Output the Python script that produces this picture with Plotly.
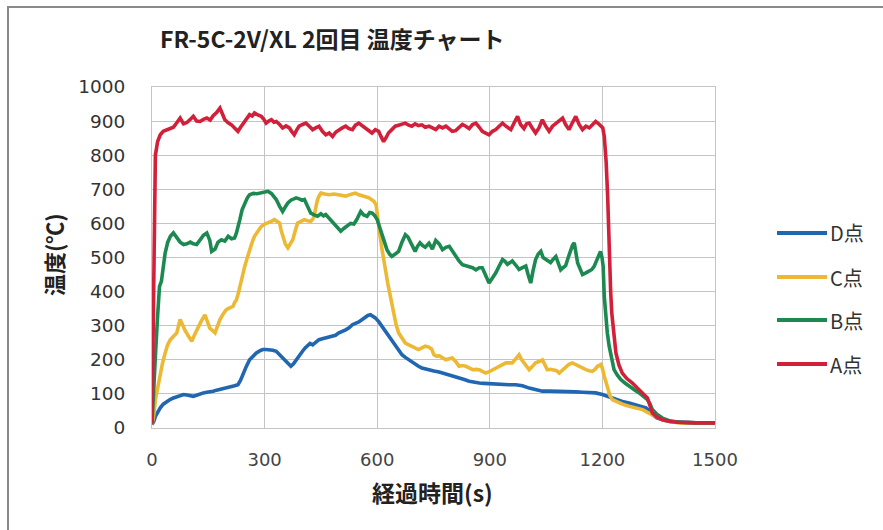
import plotly.graph_objects as go

# ---- measured temperatures (s, degC) ----
t_a = [0, 5, 9, 15, 22, 30, 40, 50, 57, 66, 75, 84, 93, 102, 110, 119, 128, 137, 146, 155, 163, 172, 181, 188, 194,
       203, 212, 220, 229, 236, 243, 252, 260, 267, 273, 282, 291, 298, 304, 311, 318, 325, 331, 340, 348, 357, 366,
       372, 379, 386, 392, 401, 410, 419, 428, 436, 445, 454, 463, 472, 481, 490, 498, 507, 516, 525, 534, 542, 551,
       560, 569, 577, 586, 595, 604, 610, 617, 624, 630, 639, 648, 657, 666, 675, 684, 692, 701, 710, 719, 728, 738,
       747, 756, 765, 774, 783, 792, 800, 809, 818, 827, 836, 845, 854, 863, 872, 880, 889, 898, 907, 916, 925, 934,
       943, 950, 956, 965, 974, 982, 991, 998, 1005, 1013, 1022, 1031, 1040, 1049, 1058, 1067, 1076, 1085, 1094,
       1102, 1111, 1120, 1129, 1138, 1147, 1156, 1165, 1174, 1182, 1190, 1196, 1201, 1205, 1210, 1214, 1218, 1222,
       1225, 1230, 1236, 1244, 1253, 1265, 1280, 1295, 1307, 1315, 1320, 1326, 1333, 1345, 1360, 1380, 1400, 1450,
       1500]
a_temp = [15, 400, 800, 840, 860, 870, 875, 878, 882, 895, 909, 892, 896, 905, 914, 900, 899, 905, 909, 903, 916,
          925, 938, 920, 904, 895, 889, 880, 870, 882, 894, 910, 919, 915, 924, 918, 914, 905, 894, 900, 904, 897,
          899, 890, 880, 886, 880, 870, 860, 875, 885, 890, 894, 885, 875, 880, 885, 870, 860, 865, 855, 868, 875,
          880, 885, 878, 875, 888, 894, 886, 880, 872, 865, 875, 870, 855, 840, 852, 865, 875, 885, 888, 892, 894,
          888, 885, 892, 887, 889, 882, 885, 880, 875, 885, 880, 885, 878, 870, 872, 880, 890, 885, 878, 890, 894,
          882, 870, 865, 860, 870, 875, 885, 894, 885, 880, 875, 895, 914, 890, 878, 892, 894, 880, 865, 880, 904,
          885, 870, 885, 894, 900, 909, 890, 875, 895, 914, 890, 875, 885, 880, 890, 899, 892, 885, 880, 855, 780,
          680, 484, 400, 337, 270, 220, 185, 161, 145, 132, 115, 103, 95, 88, 68, 44, 32, 24, 19, 17, 15, 15]

t_b = [0, 5, 9, 15, 20, 25, 30, 35, 42, 49, 57, 66, 75, 84, 93, 102, 110, 119, 128, 137, 146, 154, 159, 168, 176,
       185, 194, 203, 212, 220, 225, 230, 234, 240, 247, 254, 260, 270, 280, 287, 298, 309, 318, 325, 331, 340, 348,
       355, 362, 370, 377, 384, 392, 400, 406, 414, 423, 432, 441, 450, 457, 463, 472, 478, 485, 492, 498, 503, 511,
       520, 529, 538, 546, 556, 564, 573, 580, 587, 594, 600, 606, 613, 619, 626, 633, 639, 648, 657, 666, 675, 682,
       688, 695, 701, 707, 714, 721, 728, 738, 747, 756, 765, 774, 783, 792, 800, 809, 818, 827, 836, 845, 854, 863,
       872, 880, 889, 898, 907, 916, 925, 934, 941, 947, 954, 960, 969, 978, 987, 996, 1002, 1009, 1015, 1022, 1029,
       1036, 1042, 1049, 1056, 1062, 1069, 1076, 1082, 1089, 1095, 1102, 1109, 1116, 1120, 1125, 1130, 1134, 1140,
       1147, 1156, 1165, 1172, 1178, 1184, 1190, 1195, 1199, 1202, 1205, 1209, 1213, 1218, 1224, 1231, 1240, 1249,
       1260, 1271, 1285, 1298, 1310, 1320, 1327, 1333, 1345, 1360, 1380, 1404, 1450, 1500]
b_temp = [10, 100, 210, 330, 415, 430, 470, 513, 545, 562, 572, 560, 545, 538, 540, 545, 540, 538, 550, 565, 572,
          550, 518, 525, 545, 552, 548, 562, 555, 557, 572, 590, 611, 640, 660, 675, 684, 688, 687, 689, 692, 694,
          688, 680, 670, 650, 635, 648, 660, 668, 672, 675, 672, 668, 670, 650, 630, 625, 621, 628, 622, 626, 615,
          608, 601, 592, 585, 577, 585, 591, 600, 598, 612, 635, 625, 621, 632, 630, 622, 611, 590, 562, 540, 523,
          510, 503, 510, 518, 545, 567, 560, 548, 530, 518, 532, 543, 535, 530, 542, 525, 550, 540, 523, 530, 533,
          520, 503, 490, 479, 476, 474, 470, 464, 470, 470, 450, 425, 440, 455, 475, 494, 488, 480, 485, 490, 478,
          465, 470, 475, 450, 425, 460, 494, 510, 518, 500, 495, 490, 485, 495, 503, 485, 464, 470, 476, 500, 523,
          535, 543, 515, 484, 468, 450, 455, 460, 465, 474, 490, 510, 518, 500, 474, 386, 318, 280, 240, 205, 171,
          155, 142, 132, 122, 112, 103, 92, 83, 70, 54, 40, 29, 21, 17, 15, 15]

t_c = [0, 5, 9, 15, 22, 28, 35, 42, 49, 57, 66, 75, 82, 88, 97, 106, 114, 123, 132, 141, 147, 154, 161, 168, 175,
       181, 190, 198, 207, 216, 220, 225, 230, 234, 240, 247, 254, 260, 267, 273, 282, 291, 300, 309, 318, 326, 333,
       340, 344, 348, 355, 362, 368, 375, 382, 388, 397, 406, 414, 423, 428, 432, 437, 441, 446, 450, 460, 472, 485,
       498, 507, 516, 529, 542, 551, 560, 569, 578, 585, 591, 597, 600, 604, 608, 613, 618, 622, 628, 635, 640, 644,
       650, 657, 666, 675, 684, 692, 700, 710, 719, 728, 736, 745, 751, 759, 765, 774, 783, 792, 800, 809, 818, 827,
       836, 845, 854, 863, 872, 880, 889, 898, 907, 916, 925, 934, 943, 951, 960, 969, 978, 985, 991, 998, 1005,
       1013, 1022, 1031, 1040, 1047, 1053, 1062, 1071, 1078, 1085, 1094, 1102, 1111, 1120, 1129, 1138, 1147, 1156,
       1165, 1173, 1180, 1187, 1196, 1200, 1205, 1210, 1214, 1220, 1227, 1236, 1245, 1258, 1271, 1290, 1307, 1320,
       1333, 1345, 1360, 1380, 1404, 1450, 1500]
c_temp = [10, 40, 83, 120, 152, 190, 220, 245, 259, 268, 279, 318, 300, 286, 270, 254, 275, 298, 315, 332, 310,
          293, 286, 279, 300, 318, 335, 347, 352, 357, 368, 376, 395, 415, 445, 474, 500, 523, 545, 562, 578, 591,
          598, 601, 606, 611, 606, 601, 580, 562, 540, 528, 540, 552, 580, 601, 606, 611, 608, 606, 612, 621, 650,
          670, 682, 689, 686, 684, 686, 684, 682, 680, 685, 689, 684, 680, 678, 675, 670, 665, 655, 625, 591, 560,
          523, 495, 464, 425, 386, 360, 337, 305, 279, 262, 249, 244, 240, 235, 230, 235, 240, 238, 232, 215, 210,
          212, 206, 200, 203, 205, 195, 181, 183, 181, 176, 171, 172, 171, 166, 161, 165, 171, 176, 181, 186, 191,
          191, 191, 203, 215, 200, 191, 180, 171, 180, 191, 195, 200, 185, 171, 172, 171, 168, 161, 170, 181, 187,
          191, 186, 181, 175, 171, 168, 166, 172, 181, 186, 175, 152, 130, 112, 95, 83, 78, 73, 68, 64, 59, 54, 46,
          39, 30, 24, 19, 15, 14, 14]

t_d = [0, 5, 9, 15, 22, 30, 40, 49, 57, 66, 75, 84, 93, 101, 110, 119, 128, 137, 146, 155, 163, 172, 181, 190, 200,
       212, 220, 229, 236, 243, 251, 260, 269, 278, 287, 295, 304, 313, 322, 331, 340, 348, 356, 363, 370, 377, 384,
       392, 401, 408, 415, 421, 428, 436, 445, 454, 463, 472, 481, 489, 498, 507, 516, 525, 534, 542, 551, 560, 569,
       575, 582, 589, 595, 604, 613, 622, 631, 639, 648, 657, 666, 675, 684, 692, 701, 710, 719, 728, 738, 751, 765,
       778, 792, 805, 818, 832, 845, 858, 872, 885, 898, 916, 934, 951, 969, 987, 1005, 1022, 1040, 1058, 1076,
       1094, 1111, 1129, 1147, 1165, 1182, 1200, 1212, 1223, 1238, 1253, 1271, 1289, 1303, 1316, 1325, 1333, 1345,
       1360, 1380, 1404, 1450, 1500]
d_temp = [10, 20, 34, 47, 59, 70, 78, 84, 88, 92, 95, 98, 97, 95, 93, 96, 100, 103, 105, 106, 108, 111, 114, 117,
          120, 122, 124, 127, 140, 161, 180, 200, 210, 220, 226, 230, 230, 230, 228, 225, 215, 205, 195, 188, 181,
          188, 200, 212, 225, 235, 244, 248, 244, 250, 259, 262, 264, 266, 268, 272, 279, 283, 288, 294, 303, 307,
          311, 318, 327, 330, 332, 328, 323, 312, 298, 284, 269, 255, 240, 228, 215, 207, 200, 193, 186, 181, 176,
          173, 171, 167, 164, 160, 157, 152, 147, 142, 137, 134, 132, 131, 130, 128, 127, 127, 127, 124, 117, 112,
          108, 108, 108, 107, 106, 106, 105, 104, 103, 98, 93, 88, 83, 78, 73, 68, 63, 59, 50, 39, 30, 24, 19, 17,
          15, 15]

series_names = ["D点", "C点", "B点", "A点"]
series_times = [t_d, t_c, t_b, t_a]
series_temps = [d_temp, c_temp, b_temp, a_temp]
series_colors = ["#2066B0", "#EDB935", "#1C8A50", "#D2203A"]

title_text = "FR-5C-2V/XL 2回目 温度チャート"
x_title = "経過時間(s)"
y_title = "温度(℃)"
x_ticks = [0, 300, 600, 900, 1200, 1500]
y_ticks = list(range(0, 1001, 100))

# ---- canvas geometry (pixels) ----
W, H = 883, 530
PL, PR, PT, PB = 152, 715, 87, 428


def fx(px):
    return (px - PL) / (PR - PL)


def fy(py):
    return (PB - py) / (PB - PT)


fig = go.Figure()
for name, tt, vv, col in zip(series_names, series_times, series_temps, series_colors):
    fig.add_trace(go.Scatter(x=tt, y=vv, mode="lines", name=name,
                             line=dict(color=col, width=3.6), showlegend=False))

grid = "#C4C4C4"
fig.update_xaxes(range=[0, 1500], tickvals=x_ticks, showgrid=True, gridcolor=grid, gridwidth=1,
                 showline=True, linecolor=grid, linewidth=1, mirror=True, zeroline=False,
                 ticks="", ticklabelstandoff=15,
                 tickfont=dict(family="DejaVu Sans", size=18, color="#444444"))
fig.update_yaxes(range=[0, 1000], tickvals=y_ticks, showgrid=True, gridcolor=grid, gridwidth=1,
                 showline=True, linecolor=grid, linewidth=1, mirror=True, zeroline=False,
                 ticks="", ticklabelstandoff=22,
                 tickfont=dict(family="DejaVu Sans", size=18.5, color="#333333"))

shapes = [
    # outer chart frame
    dict(type="rect", xref="paper", yref="paper", x0=fx(8), x1=fx(1000), y0=fy(900), y1=fy(7),
         line=dict(color="#8A8A8A", width=2), fillcolor="rgba(0,0,0,0)", layer="below"),
]
annotations = [
    dict(text=title_text, xref="paper", yref="paper", x=fx(158), y=fy(38), xanchor="left", yanchor="middle",
         showarrow=False, font=dict(family="Noto Sans CJK JP", size=23, color="#222222", weight="bold")),
    dict(text=x_title, xref="paper", yref="paper", x=fx(432), y=fy(492), xanchor="center", yanchor="middle",
         showarrow=False, font=dict(family="Noto Sans CJK JP", size=23, color="#222222", weight="bold")),
    dict(text=y_title, xref="paper", yref="paper", x=fx(53), y=fy(255), xanchor="center", yanchor="middle",
         textangle=-90, showarrow=False,
         font=dict(family="Noto Sans CJK JP", size=22, color="#222222", weight="bold")),
]

# legend entries drawn beside the plot
legend_rows = [233, 277, 320, 364]
for name, col, ly in zip(series_names, series_colors, legend_rows):
    shapes.append(dict(type="line", xref="paper", yref="paper", x0=fx(777), x1=fx(827), y0=fy(ly), y1=fy(ly),
                       line=dict(color=col, width=4)))
    annotations.append(dict(text=name, xref="paper", yref="paper", x=fx(828), y=fy(ly), xanchor="left",
                            yanchor="middle", showarrow=False,
                            font=dict(family="Noto Sans CJK JP", size=20, color="#333333")))

fig.update_layout(width=W, height=H, margin=dict(l=PL, r=W - PR, t=PT, b=H - PB),
                  paper_bgcolor="white", plot_bgcolor="white",
                  shapes=shapes, annotations=annotations, showlegend=False)

fig.write_html("out.html")
